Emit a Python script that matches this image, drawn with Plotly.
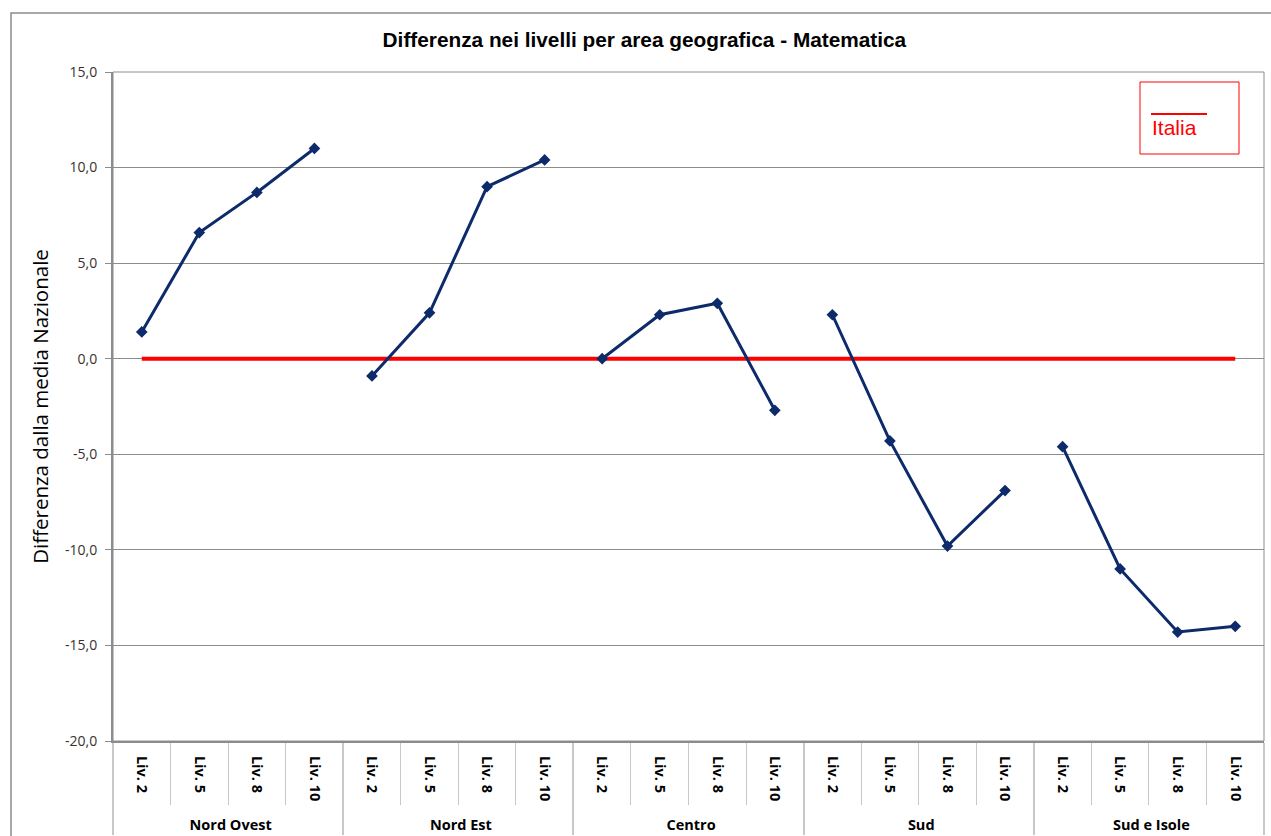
import plotly.graph_objects as go

aree = ["Nord Ovest", "Nord Est", "Centro", "Sud", "Sud e Isole"]
livelli = ["Liv. 2", "Liv. 5", "Liv. 8", "Liv. 10"]
differenze = {
    "Nord Ovest": [1.4, 6.6, 8.7, 11.0],
    "Nord Est": [-0.9, 2.4, 9.0, 10.4],
    "Centro": [0.0, 2.3, 2.9, -2.7],
    "Sud": [2.3, -4.3, -9.8, -6.9],
    "Sud e Isole": [-4.6, -11.0, -14.3, -14.0],
}
italia = [0.0] * (len(aree) * len(livelli))
y_ticks = [-20, -15, -10, -5, 0, 5, 10, 15]
y_ticktext = [f"{v:.1f}".replace(".", ",") for v in y_ticks]

# displayed level labels with a little trailing room (pushes group labels down)
pad = "\u2002\u00a0"
livelli_lbl = [l + pad for l in livelli]

x_gruppi = [a for a in aree for _ in livelli]
x_livelli = [l for _ in aree for l in livelli_lbl]

fig = go.Figure()

fig.add_trace(go.Scatter(
    x=[x_gruppi, x_livelli], y=italia, mode="lines",
    line=dict(color="#FF0000", width=4), name="Italia", showlegend=False,
))

for a in aree:
    fig.add_trace(go.Scatter(
        x=[[a] * len(livelli), livelli_lbl], y=differenze[a], mode="lines+markers",
        line=dict(color="#0D2A6B", width=3),
        marker=dict(symbol="diamond", size=9, color="#0D2A6B"),
        showlegend=False, name=a,
    ))

fig.update_layout(
    width=1271, height=836,
    margin=dict(l=113, r=7, t=72, b=95),
    paper_bgcolor="white", plot_bgcolor="white",
    font=dict(family="Liberation Sans, Arial, sans-serif", color="#000000"),
    title=dict(text="<b>Differenza nei livelli per area geografica - Matematica</b>",
               x=0.507, xanchor="center", y=1 - 40 / 836, yanchor="middle",
               font=dict(size=20.8, family="Liberation Sans, Arial, sans-serif")),
    showlegend=False,
)

fig.update_yaxes(
    range=[-20, 15], tickvals=y_ticks, ticktext=y_ticktext,
    showgrid=True, gridcolor="#8C8C8C", gridwidth=1,
    showline=True, linecolor="#8C8C8C", linewidth=2,
    ticks="outside", ticklen=6, tickcolor="#8C8C8C", ticklabelstandoff=5,
    zeroline=False,
    tickfont=dict(size=14, family="Open Sans, Liberation Sans, sans-serif", color="#333333"),
    title=dict(text="Differenza dalla media Nazionale",
               font=dict(size=20.5, family="Open Sans, Liberation Sans, sans-serif"), standoff=11),
    automargin=False,
)

n = len(aree) * len(livelli)
fig.update_xaxes(
    type="multicategory",
    range=[-0.5, n - 0.5],
    showline=True, linecolor="#8C8C8C", linewidth=2,
    ticks="outside", tickson="boundaries", ticklen=62, tickcolor="#C8C8C8",
    showdividers=True, dividercolor="#C8C8C8", dividerwidth=2,
    tickangle=90, ticklabelstandoff=10,
    tickfont=dict(size=14.5, family="Open Sans, Liberation Sans, sans-serif", color="#000000", weight="bold"),
    showgrid=False, automargin=False,
    mirror=False,
)

# plot area border
fig.add_shape(type="rect", xref="paper", yref="paper", x0=0, x1=1, y0=0, y1=1,
              line=dict(color="#8C8C8C", width=1), layer="below")

# outer chart border
fig.add_shape(type="rect", xref="paper", yref="paper",
              x0=(11 - 113) / 1151, x1=1.02, y0=-0.2, y1=1 + (72 - 13) / 669,
              line=dict(color="#8C8C8C", width=1.5))

# legend box
lx0, lx1 = (1140 - 113) / 1151, (1239 - 113) / 1151
ly0, ly1 = 1 - (154 - 72) / 669, 1 - (82 - 72) / 669
fig.add_shape(type="rect", xref="paper", yref="paper", x0=lx0, x1=lx1, y0=ly0, y1=ly1,
              line=dict(color="#FF0000", width=1), fillcolor="white")
fig.add_shape(type="line", xref="paper", yref="paper",
              x0=(1151 - 113) / 1151, x1=(1207 - 113) / 1151,
              y0=1 - (114 - 72) / 669, y1=1 - (114 - 72) / 669,
              line=dict(color="#FF0000", width=2))
fig.add_annotation(text="Italia", xref="paper", yref="paper",
                   x=(1150 - 113) / 1151, y=1 - (128 - 72) / 669,
                   xanchor="left", yanchor="middle", showarrow=False,
                   font=dict(size=21, color="#FF0000", family="Liberation Sans Narrow, Liberation Sans, sans-serif"))

fig.write_html("out.html", config={"displayModeBar": False},
               post_script="document.body.style.margin='0';document.body.style.padding='0';")
